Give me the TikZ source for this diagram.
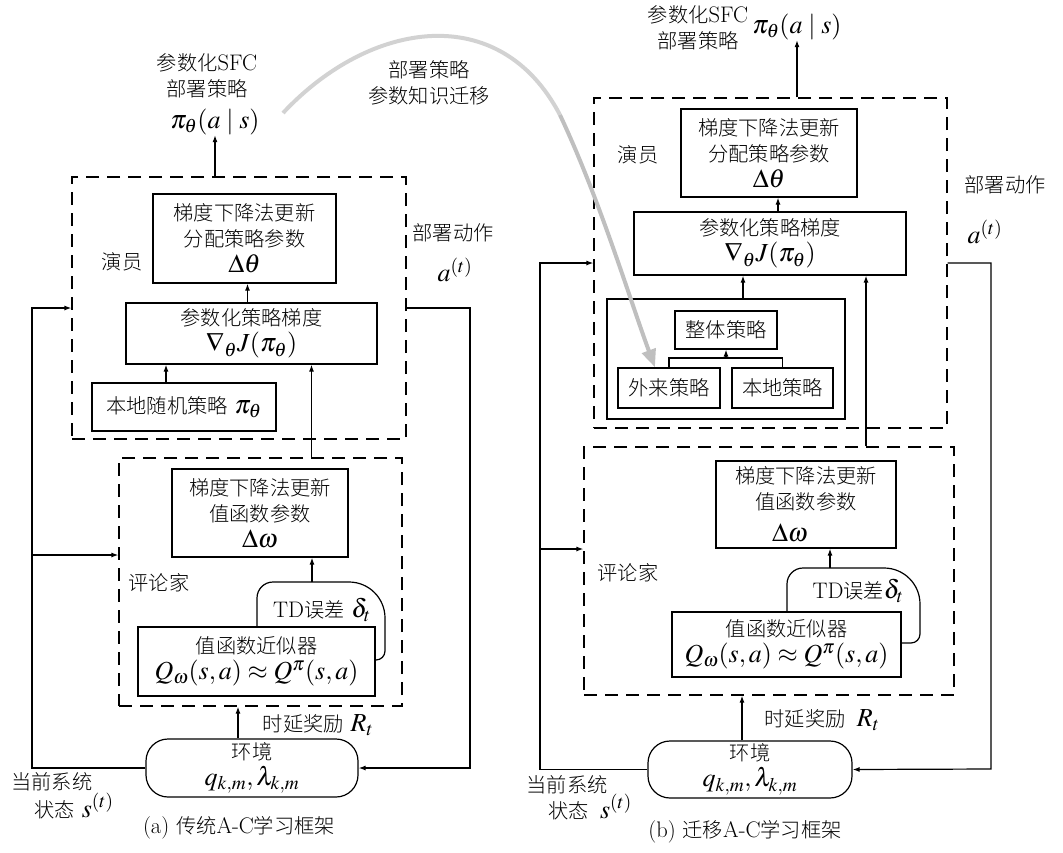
\documentclass[tikz,border=0pt]{standalone}
\usepackage{mathptmx}
\renewcommand{\rmdefault}{lmr}
\usepackage{fontspec}
\newfontfamily\cjk[Scale=0.9,UprightFont={* Light}]{Noto Sans CJK SC}
\usetikzlibrary{arrows.meta,positioning}

\newcommand{\zh}[1]{{\cjk #1}}
\newcommand{\mth}[1]{{\fontsize{26}{28}\selectfont$#1$}}

\begin{document}
\begin{tikzpicture}[x=1pt, y=-1pt,
    font=\fontsize{22.5}{26}\selectfont,
    >={Latex[length=7pt,width=5pt]},
    box/.style={rectangle, draw, line width=1.2pt, inner sep=0pt, align=center},
    dashbox/.style={rectangle, draw, dash pattern=on 13pt off 8pt, line width=1.2pt, inner sep=0pt},
    envbox/.style={rectangle, draw, rounded corners=22pt, line width=1.2pt, inner sep=0pt, align=center},
    lbl/.style={inner sep=0pt, align=center},
    link/.style={line width=1.2pt}]
  \useasboundingbox (0,0) rectangle (1063,852);

  % (a) Nodes
  \node (lsfc) [lbl] at (207,76) {\zh{参数化}SFC\\\zh{部署策略}};
  \node (lpi) [lbl] at (215,122) {\mth{\pi_\theta(a\;|\;s)}};
  \node (lactor) [dashbox, minimum width=334pt, minimum height=262pt] at (239,308) {};
  \node (lupd) [box, minimum width=183pt, minimum height=89pt] at (244.5,238.5) {\zh{梯度下降法更新}\\\zh{分配策略参数}\\\mth{\Delta\theta}};
  \node (lgrad) [box, minimum width=251pt, minimum height=61pt] at (251.5,333.5) {\zh{参数化策略梯度}\\\mth{\nabla_{\theta} J(\pi_\theta)}};
  \node (llocal) [box, minimum width=184pt, minimum height=48pt] at (184,407) {\zh{本地随机策略} \mth{\pi_\theta}};
  \node (lcritic) [dashbox, minimum width=283pt, minimum height=248pt] at (260.5,582) {};
  \node (ldw) [box, minimum width=176pt, minimum height=88pt] at (260,513) {\zh{梯度下降法更新}\\\zh{值函数参数}\\\mth{\Delta\omega}};
  \node (lval) [box, minimum width=237pt, minimum height=69pt] at (256.5,661.5) {\zh{值函数近似器}\\\mth{Q_\omega(s,a)\approx Q^\pi(s,a)}};
  \node (lenv) [envbox, minimum width=212pt, minimum height=58pt] at (252,768) {\zh{环境}\\\mth{q_{k,m},\lambda_{k,m}}};
  % (a) Labels
  \node (lactlbl) [lbl] at (122,262) {\zh{演员}};
  \node (lcrilbl) [lbl] at (159,583) {\zh{评论家}};
  \node (ltdlbl) [lbl] at (322,610) {TD\zh{误差} \mth{\delta_t}};
  \node (lrew) [lbl] at (318,725) {\zh{时延奖励} \mth{R_t}};
  \node (lact) [lbl] at (453,233) {\zh{部署动作}};
  \node (lat) [lbl] at (455,270) {\mth{a^{(t)}}};
  \node (lstate1) [lbl] at (52,782) {\zh{当前系统}};
  \node (lstate2) [lbl] at (74,806) {\zh{状态} \mth{s^{(t)}}};
  \node (lcap) [lbl] at (239,828) {(a) \zh{传统}A-C\zh{学习框架}};
  % (a) Arrows
  \draw[link,->] (lpi.south |- lactor.north) -- (lpi.south);
  \draw[link,->] ([xshift=3pt]lupd.south |- lgrad.north) -- ([xshift=3pt]lupd.south);
  \draw[link,->] ([xshift=-18pt]llocal.north) -- ([xshift=-18pt]llocal.north |- lgrad.south);
  \draw[link,->] ([xshift=51pt]lcritic.north) -- ([xshift=51pt]lcritic.north |- lgrad.south);
  \coordinate (ltdtop) at (312,582);
  \draw[link,->] (ltdtop) -- (ltdtop |- ldw.south);
  \draw[link] (257,627) -- ++(0,-29) arc[start angle=180, end angle=90, radius=16pt]
    -- ++(76,0) arc[start angle=90, end angle=0, radius=36pt]
    -- ++(0,33) arc[start angle=0, end angle=-90, radius=9pt] -- (lval.east |- 0,660);
  \draw[link,->] ([xshift=-14pt]lenv.north) -- ([xshift=-14pt]lenv.north |- lcritic.south);
  \coordinate (lbus) at (32,555);
  \draw[link,->] (lenv.west) -| (lbus) |- (lactor.west);
  \draw[link,->] (lbus) -- (lbus -| lcritic.west);
  \coordinate (lrbus) at (470,768);
  \draw[link,->] (lactor.east) -| (lrbus) -- (lenv.east);

  % (b) Nodes
  \node (rsfc) [lbl] at (698,27.5) {\zh{参数化}SFC\\\zh{部署策略}};
  \node (rpi) [lbl] at (797,27) {\mth{\pi_\theta(a\;|\;s)}};
  \node (ractor) [dashbox, minimum width=353pt, minimum height=330pt] at (770.5,263) {};
  \node (rupd) [box, minimum width=176pt, minimum height=88pt] at (769,153) {\zh{梯度下降法更新}\\\zh{分配策略参数}\\\mth{\Delta\theta}};
  \node (rgrad) [box, minimum width=272pt, minimum height=63pt] at (770,243.5) {\zh{参数化策略梯度}\\\mth{\nabla_{\theta} J(\pi_\theta)}};
  \node (rpol) [box, minimum width=238pt, minimum height=120pt] at (726,359) {};
  \node (rwhole) [box, minimum width=102pt, minimum height=38pt] at (726,330) {\zh{整体策略}};
  \node (rforeign) [box, minimum width=102pt, minimum height=40pt] at (669,388) {\zh{外来策略}};
  \node (rlocal) [box, minimum width=101pt, minimum height=40pt] at (782.5,388) {\zh{本地策略}};
  \node (rcritic) [dashbox, minimum width=370pt, minimum height=248pt] at (769,571) {};
  \node (rdw) [box, minimum width=180pt, minimum height=87pt] at (806,504.5) {\zh{梯度下降法更新}\\\zh{值函数参数}\\[6pt]\mth{\Delta\omega}\rule{32pt}{0pt}};
  \node (rval) [box, minimum width=229pt, minimum height=65pt] at (786.5,644.5) {\zh{值函数近似器}\\\mth{Q_\omega(s,a)\approx Q^\pi(s,a)}};
  \node (renv) [envbox, minimum width=204pt, minimum height=57pt] at (750,769.5) {\zh{环境}\\\mth{q_{k,m},\lambda_{k,m}}};
  % (b) Labels
  \node (ractlbl) [lbl] at (638,155) {\zh{演员}};
  \node (rcrilbl) [lbl] at (628,573) {\zh{评论家}};
  \node (rtdlbl) [lbl] at (858,591) {TD\zh{误差}\mth{\delta_t}};
  \node (rrew) [lbl] at (822,720) {\zh{时延奖励}\enspace\mth{R_t}};
  \node (ract) [lbl] at (1005,185) {\zh{部署动作}};
  \node (rat) [lbl] at (985,232) {\mth{a^{(t)}}};
  \node (rstate1) [lbl] at (567,785) {\zh{当前系统}};
  \node (rstate2) [lbl] at (590,807) {\zh{状态}\enspace\mth{s^{(t)}}};
  \node (rcap) [lbl] at (745,832) {(b) \zh{迁移}A-C\zh{学习框架}};
  \node (ttrans) [lbl] at (429,83) {\zh{部署策略}\\\zh{参数知识迁移}};
  % (b) Arrows
  \draw[link,->] (rpi.south |- ractor.north) -- (rpi.south);
  \draw[link,->] ([xshift=9pt]rupd.south |- rgrad.north) -- ([xshift=9pt]rupd.south);
  \draw[link,->] ([xshift=17pt]rpol.north) -- ([xshift=17pt]rpol.north |- rgrad.south);
  \draw[link,->] ([xshift=97pt]rcritic.north) -- ([xshift=97pt]rcritic.north |- rgrad.south);
  \coordinate (rjoin) at (726,358);
  \draw[link] (rforeign.north) |- (rjoin) -| (rlocal.north);
  \draw[link,->] (rjoin) -- (rwhole.south);
  \coordinate (rtdtop) at (830,568);
  \draw[link,->] (rtdtop) -- (rtdtop |- rdw.south);
  \draw[link] (787,612) -- ++(0,-28) arc[start angle=180, end angle=90, radius=16pt]
    -- ++(81,0) arc[start angle=90, end angle=0, radius=36pt]
    -- ++(0,30) arc[start angle=0, end angle=-90, radius=9pt] -- (rval.east |- 0,643);
  \draw[link,->] ([xshift=-8pt]renv.north) -- ([xshift=-8pt]renv.north |- rcritic.south);
  \coordinate (rbus) at (540,549);
  \draw[link,->] (renv.west) -| (rbus) |- (ractor.west);
  \draw[link,->] (rbus) -- (rbus -| rcritic.west);
  \coordinate (rrbus) at (991,769);
  \draw[link,->] (ractor.east) -| (rrbus) -- (renv.east);

  % Transfer
  \coordinate (tstart) at (283,113);
  \draw[line width=4pt, gray!35] (tstart) .. controls (370,20) and (500,0) .. (560,115);
  \draw[line width=4pt, gray!50, -{Triangle[length=18pt,width=14pt]}] (560,115)
    .. controls (600,200) and (630,300) .. ([xshift=-14pt]rforeign.north);
\end{tikzpicture}
\end{document}
